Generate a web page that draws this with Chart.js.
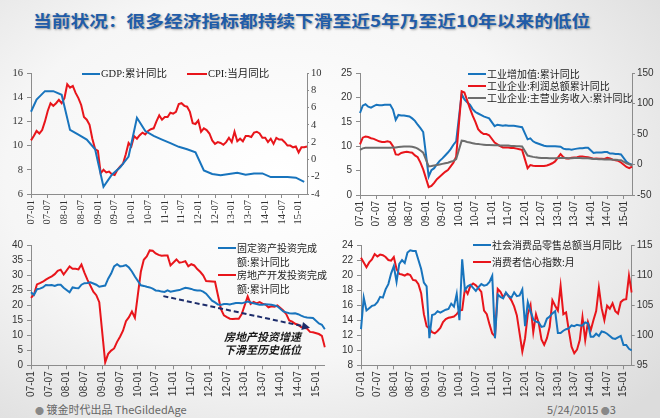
<!DOCTYPE html>
<html>
<head>
<meta charset="utf-8">
<script src="https://cdn.jsdelivr.net/npm/chart.js@4.4.1/dist/chart.umd.min.js"></script>
<style>
  body { margin: 0; width: 660px; height: 418px; overflow: hidden; position: relative;
    background: radial-gradient(ellipse 75% 80% at 42% 42%, #ffffff 0%, #f6f6f6 55%, #dcdcdc 100%);
    font-family: "Noto Sans CJK SC", "Liberation Sans", sans-serif; }
  canvas { position: absolute; }
  .title { position: absolute; left: 33px; top: 9px; font-size: 16px; line-height: 22px; font-weight: bold;
    color: #215ca8; white-space: nowrap; transform: scaleX(1.17); transform-origin: left center;
    text-shadow: 1px 1px 2px rgba(0,0,0,0.35); }
  .lg { position: absolute; font-size: 10px; line-height: 12px; color: #222; white-space: nowrap; }
  .lg i { display: inline-block; width: 18px; height: 2px; vertical-align: middle; margin-right: 1px; position: relative; top: -1px; }
  .serif { font-family: "Liberation Serif", "Noto Sans CJK SC", serif; font-size: 10.5px; }
  .foot { position: absolute; top: 402px; font-size: 11px; line-height: 14px; color: #666; white-space: nowrap; }
  .dot { color: #888; font-size: 9px; }
</style>
</head>
<body>
<div class="title">当前状况：很多经济指标都持续下滑至近5年乃至近10年以来的低位</div>

<canvas id="c1" width="330" height="170" style="left:0;top:60px"></canvas>
<canvas id="c2" width="330" height="170" style="left:330px;top:60px"></canvas>
<canvas id="c3" width="330" height="165" style="left:0;top:235px"></canvas>
<canvas id="c4" width="330" height="165" style="left:330px;top:235px"></canvas>

<div class="lg serif" style="left:82px;top:68px"><i style="background:#1874bd"></i>GDP:累计同比</div>
<div class="lg serif" style="left:187px;top:68px"><i style="background:#e8151b;width:20px"></i>CPI:当月同比</div>

<div class="lg" style="left:468px;top:68px"><i style="background:#1874bd"></i>工业增加值:累计同比</div>
<div class="lg" style="left:468px;top:80px"><i style="background:#e8151b"></i>工业企业:利润总额累计同比</div>
<div class="lg" style="left:468px;top:92px"><i style="background:#6d6d6d"></i>工业企业:主营业务收入:累计同比</div>

<div class="lg" style="left:218px;top:242px"><i style="background:#1874bd"></i>固定资产投资完成</div>
<div class="lg" style="left:237px;top:256px">额:累计同比</div>
<div class="lg" style="left:218px;top:269px"><i style="background:#e8151b"></i>房地产开发投资完成</div>
<div class="lg" style="left:237px;top:283px">额:累计同比</div>

<div class="lg" style="left:473px;top:239px"><i style="background:#1874bd"></i>社会消费品零售总额当月同比</div>
<div class="lg" style="left:473px;top:256px"><i style="background:#e8151b"></i>消费者信心指数:月</div>

<div class="foot" style="left:35px"><span class="dot">●</span> 镀金时代出品 TheGildedAge</div>
<div class="foot" style="left:547px">5/24/2015 <span class="dot">●</span>3</div>

<script>
// month labels 07-01 .. 15-04
const years = ['07', '08', '09', '10', '11', '12', '13', '14', '15'];
const months = [];
years.forEach(y => {
  for (let m = 1; m <= 12; m++) {
    if (y === '15' && m > 4) break;
    months.push(y + '-' + String(m).padStart(2, '0'));
  }
});

// panel 1: GDP (quarterly) and CPI
const gdpMonth = [0, 2, 5, 8, 11, 14, 17, 20, 23, 26, 29, 32, 35, 38, 41, 44, 47, 50, 53, 56, 59, 62, 65, 68, 71, 74, 77, 80, 83, 86, 89, 92, 95, 98];
const gdp = [12.8, 13.8, 14.5, 14.5, 14.2, 11.3, 10.9, 10.5, 9.7, 6.6, 7.6, 8.2, 9.1, 12.3, 11.2, 10.8, 10.5,
  10.2, 9.9, 9.7, 9.45, 7.95, 7.65, 7.55, 7.65, 7.75, 7.6, 7.7, 7.7, 7.4, 7.4, 7.4, 7.35, 7.0];
const cpi = [2.2, 2.7, 3.3, 3.0, 3.4, 4.4, 5.6, 6.5, 6.2, 6.5, 6.9, 6.5,
  7.1, 8.7, 8.3, 8.5, 7.7, 7.1, 6.3, 4.9, 4.6, 4.0, 2.4, 1.2,
  1.0, -1.6, -1.2, -1.5, -1.4, -1.7, -1.8, -1.2, -0.8, -0.5, 0.6, 1.9,
  1.5, 2.7, 2.4, 2.8, 3.1, 2.9, 3.3, 3.5, 3.6, 4.4, 5.1, 4.6,
  4.9, 4.9, 5.4, 5.3, 5.5, 6.4, 6.5, 6.2, 6.1, 5.5, 4.2, 4.1,
  4.5, 3.2, 3.6, 3.4, 3.0, 2.2, 1.8, 2.0, 1.9, 1.7, 2.0, 2.5,
  2.0, 3.2, 2.1, 2.4, 2.1, 2.7, 2.7, 2.6, 3.1, 3.2, 3.0, 2.5,
  2.5, 2.0, 2.4, 1.8, 2.5, 2.3, 2.3, 2.0, 1.6, 1.6, 1.4, 1.5,
  0.8, 1.4, 1.4, 1.5];

// panel 2: industry
const indValueAdded = [16.8, 18.3, 18.6, 18.1, 17.9, 18.2, 18.5, 18.4, 18.4, 18.5, 18.5, 18.5,
  17.5, 15.4, 16.4, 16.3, 16.3, 16.2, 16.1, 15.7, 15.2, 14.4, 13.7, 12.9,
  null, 3.8, 5.1, 5.5, 6.3, 7.0, 7.5, 8.1, 8.7, 9.4, 10.3, 11.0,
  null, 20.7, 19.6, 19.0, 18.5, 17.6, 17.0, 16.7, 16.4, 16.1, 15.9, 15.7,
  null, 14.1, 14.4, 14.3, 14.2, 14.3, 14.2, 14.2, 14.2, 14.1, 14.0, 13.9,
  null, 11.4, 11.6, 11.0, 10.7, 10.5, 10.3, 10.1, 10.0, 10.0, 10.0, 10.0,
  null, 9.9, 9.5, 9.4, 9.4, 9.3, 9.4, 9.5, 9.6, 9.6, 9.7, 9.7,
  null, 8.6, 8.7, 8.7, 8.7, 8.8, 8.8, 8.5, 8.5, 8.4, 8.4, 8.3,
  null, 6.8, 6.4, 6.2];
const indProfit = [33, 44, 46, 45, 43, 42, 40, 38, 37, 37, 38, 36.7,
  30, 16.5, 16, 19, 20, 20.9, 20, 19.4, 15, 12, 3, -8,
  null, -37, -35, -30, -24, -20, -16, -12, -9, -3, 3, 13,
  null, 120, 118, 105, 92, 80, 70, 58, 53, 50, 50, 48,
  null, 36, 33, 30, 28, 28, 28, 27, 27, 26, 25, 24,
  null, -6, -1, -2, -2.3, -2.3, -2.5, -2.5, -1.5, 0, 2, 5,
  null, 17, 12, 10, 10, 11, 11.5, 12, 13, 13, 12.5, 12,
  null, 9.4, 10, 9.6, 9.5, 9, 11, 10, 8, 7, 6, 3.3,
  null, -4, -6, -3.4];
const indRevenue = [24, 26.5, 27.5, 27.5, 27.5, 27.5, 27.5, 27.5, 27.5, 27.5, 27.5, 27.5,
  28, 28, 28.5, 29, 29.5, 29.5, 29.5, 29, 28, 26, 23, 19.5,
  null, -3, -2.5, -1.5, -1, 0, 1, 2, 3, 4.5, 6, 9,
  null, 39, 38.5, 37, 36, 35, 34, 33.5, 33, 32.5, 32, 32,
  null, 31.5, 31.5, 31, 31, 31, 31, 30.5, 30.5, 30, 30, 29.5,
  null, 14.7, 13.5, 12.5, 11.7, 11.2, 10.8, 10.5, 10.5, 10.3, 10.2, 10.1,
  null, 10.5, 10.5, 10.5, 10.4, 10.4, 10.5, 10.6, 10.5, 10.4, 10.3, 10.3,
  null, 9, 9, 8.8, 8.6, 8.3, 8.1, 8, 7.9, 7.6, 7.2, 7,
  null, 2, 0.5, -0.7];

// panel 3: fixed asset / real estate investment
const fai = [24.3, 23.4, 25.3, 25.5, 25.9, 26.7, 26.6, 26.7, 26.4, 26.8, 26.8, 25.8,
  null, 24.3, 25.9, 25.7, 25.6, 26.8, 27.3, 27.4, 27.6, 27.2, 26.8, 26.1,
  null, 26.5, 28.8, 30.5, 32.9, 33.6, 32.9, 33.0, 33.3, 32.5, 31.2, 29.5,
  null, 26.6, 26.4, 26.1, 25.9, 25.5, 24.9, 24.8, 24.5, 24.4, 24.9, 24.5,
  null, 24.9, 25.0, 25.4, 25.8, 25.6, 25.4, 25.0, 24.9, 24.9, 24.5, 23.8,
  null, 21.5, 20.9, 20.2, 20.1, 20.4, 20.4, 20.2, 20.5, 20.7, 20.7, 20.6,
  null, 21.2, 20.9, 20.6, 20.4, 20.1, 20.1, 20.3, 20.2, 20.1, 19.9, 19.6,
  null, 17.9, 17.6, 17.3, 17.2, 17.3, 17.0, 16.5, 16.1, 15.9, 15.8, 15.7,
  null, 13.9, 13.5, 12.0];
const realEstate = [22.4, 23.5, 26.9, 27.3, 27.8, 28.5, 29.1, 29.6, 30.3, 31.4, 31.8, 30.2,
  null, 32.9, 32.1, 32.1, 31.9, 33.5, 30.8, 28.5, 26.5, 24.5, 23.3, 21.0,
  null, 1.0, 3.8, 4.9, 5.6, 7.8, 9.5, 11.5, 14.7, 16.0, 17.9, 15.8,
  null, 31.1, 35.1, 36.2, 38.2, 38.1, 37.2, 36.7, 36.4, 36.5, 36.5, 33.2,
  null, 35.2, 34.1, 34.3, 34.6, 32.9, 33.6, 33.2, 32.0, 31.1, 29.9, 28.0,
  null, 27.9, 27.8, 23.2, 18.7, 16.6, 16.0, 15.5, 15.4, 15.5, 15.5, 17.0,
  null, 22.9, 20.4, 21.1, 20.6, 21.0, 20.5, 20.2, 19.3, 19.6, 19.5, 19.9,
  null, 18.2, 17.0, 14.9, 14.5, 13.8, 13.5, 12.7, 12.5, 12.2, 11.1, 11.0,
  null, 10.4, 9.8, 6.0];
// trend arrow (month index, value) and callout
const arrowFrom = [44.6, 23.0];
const arrowTo = [94, 12.5];
const calloutAt = [78, 9.4];
const calloutLines = ['房地产投资增速', '下滑至历史低位'];

// panel 4: retail sales and consumer confidence
const retail = [12.8, 17.0, 15.3, 15.6, 15.9, 16.0, 16.4, 17.1, 17.0, 18.1, 18.8, 20.2,
  21.2, 19.1, 21.5, 22.0, 21.6, 23.0, 23.3, 23.2, 23.2, 22.0, 20.8, 19.0,
  18.5, 11.6, 14.7, 14.8, 15.2, 15.0, 15.2, 15.4, 15.5, 16.2, 15.8, 17.5,
  14.0, 22.1, 18.0, 18.5, 18.7, 18.3, 17.9, 18.4, 18.8, 18.6, 18.7, 19.1,
  19.9, 11.6, 17.4, 17.1, 16.9, 17.7, 17.2, 17.0, 17.7, 17.2, 17.3, 18.1,
  13.2, 16.4, 15.2, 14.1, 13.8, 13.7, 13.1, 13.2, 14.2, 14.5, 14.9, 15.2,
  12.3, 12.3, 12.6, 12.8, 12.9, 13.3, 13.2, 13.4, 13.3, 13.3, 13.7, 13.6,
  11.8, 11.8, 12.2, 11.9, 12.5, 12.4, 12.2, 11.9, 11.6, 11.5, 11.7, 11.9,
  10.7, 10.7, 10.2, 10.0];
const confidence = [112.9, 112.1, 111.3, 112.1, 112.6, 113.5, 113.1, 113.4, 113.3, 113.0, 112.5, 112.4,
  113.0, 111.0, 110.2, 110.1, 109.9, 110.2, 110.0, 109.2, 109.1, 108.5, 107.0, 103.5,
  101.5, 101.1, 100.5, 100.3, 100.7, 101.2, 102.2, 102.7, 102.9, 103.0, 103.1, 103.5,
  104.1, 104.2, 107.7, 106.9, 108.2, 108.6, 108.3, 107.8, 107.2, 104.1, 103.5, 101.8,
  100.3, 99.8, 107.7, 107.2, 106.3, 107.0, 106.5, 105.8, 104.8, 103.3, 100.3, 97.3,
  99.5, 103.5, 105.0, 100.5, 103.5, 102.0, 99.3, 98.4, 99.5, 101.4, 105.8, 104.9,
  104.1, 108.2, 103.5, 103.8, 100.8, 98.1, 97.0, 97.6, 99.2, 103.0, 99.2, 102.2,
  100.8, 102.5, 104.0, 107.9, 104.5, 102.5, 104.9, 104.4, 105.3, 104.0, 103.6, 105.5,
  105.9, 106.0, 109.9, 107.1];

const BLUE = '#1874bd', RED = '#e8151b', GRAY = '#6d6d6d', AXIS = '#8c8c8c';
const serifFont = { family: 'Liberation Serif', size: 10.5 };
const sansFont = { family: 'Liberation Sans', size: 10 };

function line(data, color, axis) {
  return { data, borderColor: color, borderWidth: 2, pointRadius: 0, tension: 0,
    spanGaps: true, fill: false, yAxisID: axis };
}

function xAxis(font, height) {
  return {
    type: 'category', labels: months, offset: false,
    grid: { drawOnChartArea: false, tickLength: 4, color: AXIS },
    border: { color: AXIS },
    ticks: { autoSkip: false, minRotation: 90, maxRotation: 90, padding: 2, font, color: '#333',
      callback: (v, i) => (i % 6 === 0 ? months[i] : null) },
    afterFit: s => { s.height = height; }
  };
}

function yAxis(pos, min, max, step, font, width, tick) {
  return {
    position: pos, min, max,
    grid: { drawOnChartArea: false, tickLength: tick, color: AXIS },
    border: { color: AXIS },
    ticks: { stepSize: step, font, color: '#333', padding: pos === 'left' ? 4 : 2 },
    afterFit: s => { s.width = width; }
  };
}

const base = {
  responsive: false, animation: false, devicePixelRatio: 1,
  plugins: { legend: { display: false }, tooltip: { enabled: false } }
};

new Chart(document.getElementById('c1'), {
  type: 'line',
  data: { datasets: [
    line(gdpMonth.map((m, i) => ({ x: months[m], y: gdp[i] })), BLUE, 'y'),
    line(cpi, RED, 'y1')
  ] },
  options: { ...base, layout: { padding: { top: 13, left: 0, right: 0, bottom: 0 } },
    scales: {
      x: xAxis(serifFont, 36),
      y: yAxis('left', 6, 16, 2, serifFont, 31, 4),
      y1: yAxis('right', -4, 10, 2, serifFont, 23, 2)
    } }
});

new Chart(document.getElementById('c2'), {
  type: 'line',
  data: { labels: months, datasets: [
    line(indRevenue, GRAY, 'y1'),
    line(indProfit, RED, 'y1'),
    line(indValueAdded, BLUE, 'y')
  ] },
  options: { ...base, layout: { padding: { top: 13, left: 0, right: 0, bottom: 0 } },
    scales: {
      x: xAxis(sansFont, 35),
      y: yAxis('left', 0, 25, 5, sansFont, 30, 4),
      y1: yAxis('right', -50, 150, 50, sansFont, 28, 3)
    } }
});

const trendArrow = {
  id: 'trendArrow',
  afterDatasetsDraw(chart) {
    const { ctx, scales: { x, y } } = chart;
    const x0 = x.getPixelForValue(arrowFrom[0]), y0 = y.getPixelForValue(arrowFrom[1]);
    const x1 = x.getPixelForValue(arrowTo[0]), y1 = y.getPixelForValue(arrowTo[1]);
    const ang = Math.atan2(y1 - y0, x1 - x0);
    ctx.save();
    ctx.strokeStyle = '#1c2c6a';
    ctx.fillStyle = '#1c2c6a';
    ctx.lineWidth = 2;
    ctx.setLineDash([5, 3]);
    ctx.beginPath();
    ctx.moveTo(x0, y0);
    ctx.lineTo(x1 - 6 * Math.cos(ang), y1 - 6 * Math.sin(ang));
    ctx.stroke();
    ctx.setLineDash([]);
    ctx.beginPath();
    ctx.moveTo(x1, y1);
    ctx.lineTo(x1 - 8 * Math.cos(ang) + 4 * Math.sin(ang), y1 - 8 * Math.sin(ang) - 4 * Math.cos(ang));
    ctx.lineTo(x1 - 8 * Math.cos(ang) - 4 * Math.sin(ang), y1 - 8 * Math.sin(ang) + 4 * Math.cos(ang));
    ctx.closePath();
    ctx.fill();
    // callout text
    ctx.fillStyle = '#1a1a1a';
    ctx.font = 'italic bold 11px "Noto Sans CJK SC"';
    ctx.textAlign = 'center';
    ctx.textBaseline = 'middle';
    const cx = x.getPixelForValue(calloutAt[0]), cy = y.getPixelForValue(calloutAt[1]);
    calloutLines.forEach((t, i) => ctx.fillText(t, cx, cy + i * 13));
    ctx.restore();
  }
};

new Chart(document.getElementById('c3'), {
  type: 'line',
  data: { labels: months, datasets: [
    line(fai, BLUE, 'y'),
    line(realEstate, RED, 'y')
  ] },
  options: { ...base, layout: { padding: { top: 9, left: 0, right: 2, bottom: 0 } },
    scales: {
      x: xAxis(sansFont, 34.7),
      y: yAxis('left', 0, 40, 5, sansFont, 31, 4)
    } },
  plugins: [trendArrow]
});

new Chart(document.getElementById('c4'), {
  type: 'line',
  data: { labels: months, datasets: [
    line(retail, BLUE, 'y'),
    line(confidence, RED, 'y1')
  ] },
  options: { ...base, layout: { padding: { top: 9, left: 0, right: 0, bottom: 0 } },
    scales: {
      x: xAxis(sansFont, 34.7),
      y: yAxis('left', 8, 24, 2, sansFont, 31, 4),
      y1: yAxis('right', 95, 115, 5, sansFont, 28.3, 3)
    } }
});
</script>
</body>
</html>
